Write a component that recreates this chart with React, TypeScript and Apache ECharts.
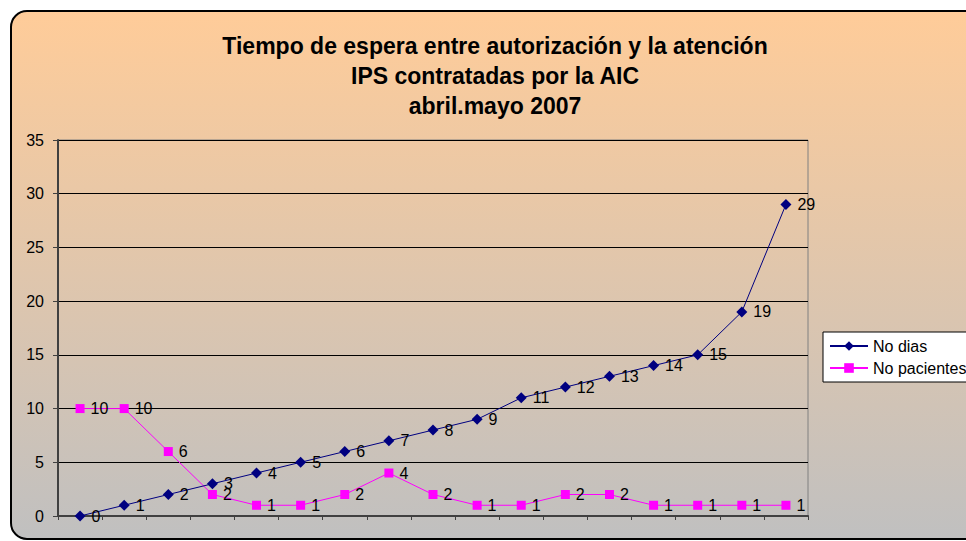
import React, { useEffect, useRef } from "react";
import * as echarts from "echarts";

const categories = ["1", "2", "3", "4", "5", "6", "7", "8", "9", "10", "11", "12", "13", "14", "15", "16", "17"];
const noDias = [0, 1, 2, 3, 4, 5, 6, 7, 8, 9, 11, 12, 13, 14, 15, 19, 29];
const noPacientes = [10, 10, 6, 2, 1, 1, 2, 4, 2, 1, 1, 2, 2, 1, 1, 1, 1];
const titleText = "Tiempo de espera entre autorización y la atención\nIPS contratadas por la AIC\nabril.mayo 2007";
const seriesNames = ["No dias", "No pacientes"];

const FONT = "Arial, 'Liberation Sans', sans-serif";

export default function App() {
  const ref = useRef<HTMLDivElement>(null);
  useEffect(() => {
    if (!ref.current) return;
    const chart = echarts.init(ref.current, null, { renderer: "svg" });
    const labelStyle = {
      show: true,
      position: "right" as const,
      distance: 6,
      color: "#000",
      fontSize: 16,
      fontFamily: FONT,
    };
    chart.setOption({
      animation: false,
      graphic: [
        {
          type: "rect",
          z: -10,
          silent: true,
          shape: { x: 11, y: 11, width: 990, height: 528, r: 16 },
          style: {
            fill: new echarts.graphic.LinearGradient(0, 0, 0, 1, [
              { offset: 0, color: "#FFCC99" },
              { offset: 1, color: "#C0C0C0" },
            ]),
            stroke: "#000",
            lineWidth: 2,
          },
        },
      ],
      title: {
        text: titleText,
        left: 490,
        top: 26,
        textAlign: "center",
        textStyle: {
          fontFamily: FONT,
          fontWeight: "bold",
          fontSize: 23,
          lineHeight: 30,
          color: "#000",
        },
      },
      legend: {
        orient: "vertical",
        left: 823,
        top: 332,
        itemWidth: 38,
        itemHeight: 12,
        itemGap: 6,
        padding: [6, 30, 6, 6],
        backgroundColor: "#fff",
        borderColor: "#000",
        borderWidth: 1,
        textStyle: { fontFamily: FONT, fontSize: 16, color: "#000" },
        data: seriesNames,
      },
      grid: {
        left: 58,
        top: 140,
        width: 750,
        height: 376,
        show: true,
        borderColor: "#808080",
        borderWidth: 1,
        backgroundColor: "transparent",
      },
      xAxis: {
        type: "category",
        data: categories,
        boundaryGap: true,
        axisLine: { lineStyle: { color: "#404040", width: 2 } },
        axisTick: { show: true, length: 4, lineStyle: { color: "#404040" } },
        axisLabel: { show: false },
        splitLine: { show: false },
      },
      yAxis: {
        type: "value",
        min: 0,
        max: 35,
        interval: 5,
        axisLine: { show: true, lineStyle: { color: "#404040", width: 2 } },
        axisTick: { show: true, length: 5, lineStyle: { color: "#404040" } },
        axisLabel: { fontFamily: FONT, fontSize: 16, color: "#000", margin: 14 },
        splitLine: { lineStyle: { color: "#000", width: 1 } },
      },
      series: [
        {
          name: seriesNames[0],
          type: "line",
          data: noDias,
          symbol: "diamond",
          symbolSize: 11,
          itemStyle: { color: "#000080" },
          lineStyle: { color: "#000080", width: 1 },
          label: labelStyle,
          z: 3,
        },
        {
          name: seriesNames[1],
          type: "line",
          data: noPacientes,
          symbol: "rect",
          symbolSize: 9,
          itemStyle: { color: "#FF00FF" },
          lineStyle: { color: "#FF00FF", width: 1 },
          label: labelStyle,
          z: 2,
        },
      ],
    });
    return () => chart.dispose();
  }, []);
  return (
    <div
      ref={ref}
      style={{ position: "fixed", left: 0, top: 0, width: 966, height: 541, background: "#fff" }}
    />
  );
}
